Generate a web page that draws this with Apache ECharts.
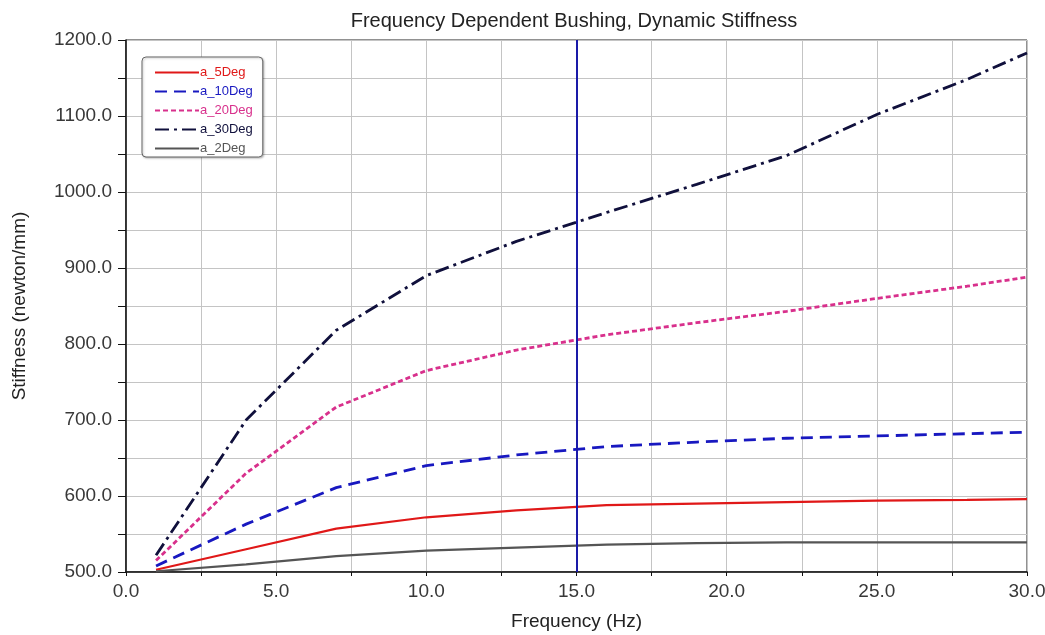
<!DOCTYPE html>
<html>
<head>
<meta charset="utf-8">
<script src="https://cdn.jsdelivr.net/npm/echarts@6/dist/echarts.min.js"></script>
<style>
  html, body { margin: 0; padding: 0; background: #fff; }
  #chart { width: 1045px; height: 635px; }
</style>
</head>
<body>
<div id="chart"></div>
<script>
// Frequency sample points (Hz)
const freq = [1, 4, 7, 10, 13, 16, 19, 22, 25, 28, 30];

// Dynamic stiffness (newton/mm) per bushing angle
const a_5Deg  = [503, 530, 557, 572, 581, 588, 590, 592, 594, 595, 596];
const a_10Deg = [508, 563, 611, 640, 654, 665, 671, 676, 679, 682, 684];
const a_20Deg = [515, 630, 717, 765, 792, 812, 828, 843, 860, 876, 888];
const a_30Deg = [522, 700, 818, 890, 935, 973, 1010, 1048, 1102, 1148, 1183];
const a_2Deg  = [501, 510, 521, 528, 532, 536, 538, 539, 539, 539, 539];

// Cursor position
const cursorFreq = 15;

// Axis label steps
const xLabelStep = 5;
const yLabelStep = 100;

const pairs = ys => freq.map((f, i) => [f, ys[i]]);

const seriesDefs = [
  { name: 'a_5Deg',  data: a_5Deg,  color: '#e01818', type: 'solid',        width: 2.2 },
  { name: 'a_10Deg', data: a_10Deg, color: '#1818c0', type: [12, 7],        width: 2.8 },
  { name: 'a_20Deg', data: a_20Deg, color: '#d8308c', type: [5, 3],         width: 2.8 },
  { name: 'a_30Deg', data: a_30Deg, color: '#10103c', type: [14, 5, 3, 5],  width: 2.8 },
  { name: 'a_2Deg',  data: a_2Deg,  color: '#555555', type: 'solid',        width: 2.2 }
];

const chart = echarts.init(document.getElementById('chart'), null, { renderer: 'canvas' });

const series = seriesDefs.map((s, idx) => {
  const o = {
    name: s.name,
    type: 'line',
    data: pairs(s.data),
    showSymbol: false,
    symbol: 'none',
    color: s.color,
    lineStyle: { color: s.color, width: s.width, type: s.type },
    z: 3
  };
  if (idx === 0) {
    o.markLine = {
      silent: true,
      symbol: ['none', 'none'],
      label: { show: false },
      lineStyle: { color: '#1a1aa8', width: 2, type: 'solid' },
      data: [{ xAxis: cursorFreq }],
      z: 5
    };
  }
  return o;
});

chart.setOption({
  animation: false,
  backgroundColor: '#ffffff',
  textStyle: { fontFamily: 'Liberation Sans, Arial, sans-serif' },
  title: {
    text: 'Frequency Dependent Bushing, Dynamic Stiffness',
    left: 569,
    textAlign: 'center',
    top: 6,
    textStyle: { fontSize: 20, fontWeight: 'normal', color: '#222' }
  },
  legend: {
    orient: 'vertical',
    left: 142,
    top: 57,
    itemWidth: 44,
    itemHeight: 14,
    itemGap: 6,
    padding: [9, 10, 2, 12],
    backgroundColor: '#ffffff',
    borderColor: '#666',
    borderWidth: 1,
    borderRadius: 4,
    shadowColor: 'rgba(0,0,0,0.25)',
    shadowBlur: 2,
    shadowOffsetX: 1,
    shadowOffsetY: 1,
    itemStyle: { opacity: 0 },
    textStyle: { fontSize: 13, padding: [0, 0, 0, -4] },
    data: seriesDefs.map(s => ({ name: s.name, textStyle: { color: s.color } }))
  },
  grid: {
    left: 126, right: 18, top: 40, bottom: 63,
    outerBoundsMode: 'none',
    containLabel: false,
    show: true, borderColor: '#222', borderWidth: 1
  },
  xAxis: {
    type: 'value',
    min: 0,
    max: 30,
    interval: 2.5,
    name: 'Frequency (Hz)',
    nameLocation: 'middle',
    nameGap: 40,
    nameTextStyle: { fontSize: 19, color: '#222' },
    axisLine: { show: true, onZero: false, lineStyle: { color: '#111', width: 1.5 } },
    axisTick: { show: true, length: 4, lineStyle: { color: '#111' } },
    axisLabel: {
      fontSize: 19, color: '#383838', margin: 10,
      formatter: v => (Math.abs(v % xLabelStep) < 1e-9 ? v.toFixed(1) : '')
    },
    splitLine: { show: true, lineStyle: { color: '#c4c4c4', width: 1 } }
  },
  yAxis: {
    type: 'value',
    min: 500,
    max: 1200,
    interval: 50,
    name: 'Stiffness (newton/mm)',
    nameLocation: 'middle',
    nameGap: 97,
    nameRotate: 90,
    nameTextStyle: { fontSize: 19, color: '#222' },
    axisLine: { show: true, onZero: false, lineStyle: { color: '#111', width: 1.5 } },
    axisTick: { show: true, length: 8, lineStyle: { color: '#111' } },
    axisLabel: {
      fontSize: 19, color: '#383838', margin: 14,
      formatter: v => (v % yLabelStep === 0 ? v.toFixed(1) : '')
    },
    splitLine: { show: true, lineStyle: { color: '#c4c4c4', width: 1 } }
  },
  series: series
});
</script>
</body>
</html>
